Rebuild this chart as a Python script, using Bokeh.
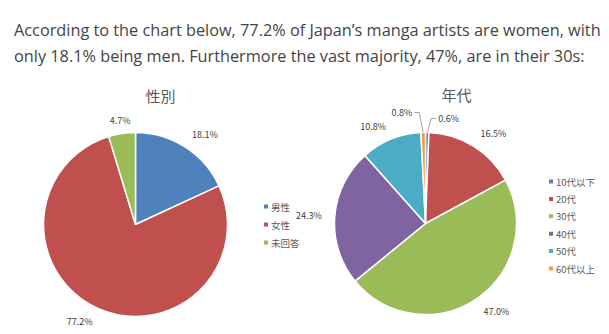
import math
from bokeh.plotting import figure
from bokeh.models import Range1d, Label, ColumnDataSource
from bokeh.core.properties import value
from bokeh.embed import file_html
from bokeh.resources import INLINE

# ---------------- data ----------------
header_lines = [
    "According to the chart below, 77.2% of Japan\u2019s manga artists are women, with",
    "only 18.1% being men. Furthermore the vast majority, 47%, are in their 30s:",
]

gender_title = "性別"
gender_labels = ["男性", "女性", "未回答"]
gender_values = [18.1, 77.2, 4.7]
gender_colors = ["#4F81BD", "#C0504D", "#9BBB59"]

age_title = "年代"
age_labels = ["10代以下", "20代", "30代", "40代", "50代", "60代以上"]
age_values = [0.6, 16.5, 47.0, 24.3, 10.8, 0.8]
age_colors = ["#4F81BD", "#C0504D", "#9BBB59", "#8064A2", "#4BACC6", "#F79646"]

# ---------------- layout / style ----------------
W, H = 609, 334
CJK = "Noto Sans CJK JP"
LEADER_RISE = {"10代以下": 14, "60代以上": 20}   # leader line rise for tiny slices


def Y(y):  # screen y (down) -> data y (up)
    return H - y


p = figure(width=W, height=H, x_range=Range1d(0, W), y_range=Range1d(0, H),
           output_backend="svg", toolbar_location=None, min_border=0)
p.axis.visible = False
p.grid.visible = False
p.outline_line_color = None
p.background_fill_color = "white"
p.border_fill_color = "white"

# header text
for i, line in enumerate(header_lines):
    p.add_layout(Label(x=13.5, y=Y(29.5 + 26 * i), text=line, text_font="Open Sans",
                       text_font_size="16.3px", text_color="#444444",
                       text_baseline="alphabetic", text_align="left"))


def draw_pie(cx, cy, r, labels, values, colors, title, title_x, title_y,
             leg_x, leg_y0, leg_dy):
    cyb = Y(cy)
    total = sum(values)
    starts, ends, mids = [], [], []
    cum = 0.0
    for v in values:
        f0 = cum / total
        cum += v
        f1 = cum / total
        starts.append(math.pi / 2 - 2 * math.pi * f0)
        ends.append(math.pi / 2 - 2 * math.pi * f1)
        mids.append((f0 + f1) / 2)
    src = ColumnDataSource(dict(start=starts, end=ends, color=colors))
    p.wedge(x=cx, y=cyb, radius=r, start_angle="start", end_angle="end",
            direction="clock", fill_color="color", line_color="white",
            line_width=1.5, source=src)

    # data labels
    for lab, v, m in zip(labels, values, mids):
        th = 2 * math.pi * m
        s, c = math.sin(th), math.cos(th)
        txt = f"{v:.1f}%"
        if v / total < 0.02:
            ex, ey = cx + r * s, cyb + r * c
            sg = 1 if s >= 0 else -1
            kx, ky = ex + sg * 4, ey + LEADER_RISE.get(lab, 16)
            hx = kx + sg * 5
            p.line([ex, kx, hx], [ey, ky, ky], line_color="#A6A6A6", line_width=1)
            p.text(x=[kx + sg * 7], y=[ky], text=[txt],
                   text_align="left" if sg > 0 else "right", text_baseline="middle",
                   text_font=value(CJK), text_font_size="9px", text_color="#404040")
        else:
            px, py = cx + (r + 13) * s, cyb + (r + 7) * c
            align = "left" if s > 0.15 else ("right" if s < -0.15 else "center")
            base = "bottom" if c > 0.15 else ("top" if c < -0.15 else "middle")
            p.text(x=[px], y=[py], text=[txt], text_align=align, text_baseline=base,
                   text_font=value(CJK), text_font_size="9px", text_color="#404040")

    # title
    p.add_layout(Label(x=title_x, y=Y(title_y), text=title, text_font=CJK,
                       text_font_size="15px", text_font_style="normal",
                       text_color="#595959", text_align="center",
                       text_baseline="middle"))

    # legend
    ys = [Y(leg_y0 + i * leg_dy) for i in range(len(labels))]
    p.scatter(x=[leg_x] * len(labels), y=ys, marker="square", size=4,
              fill_color=colors, line_color=None)
    p.text(x=[leg_x + 5] * len(labels), y=ys, text=labels, text_align="left",
           text_baseline="middle", text_font=value(CJK), text_font_size="9.5px",
           text_color="#595959")


draw_pie(135, 224, 92, gender_labels, gender_values, gender_colors, gender_title,
         160, 95, 265.5, 206, 18)
draw_pie(425, 223, 91, age_labels, age_values, age_colors, age_title,
         456, 94, 550.5, 181, 17.4)

open("out.html", "w").write(file_html(p, INLINE))
